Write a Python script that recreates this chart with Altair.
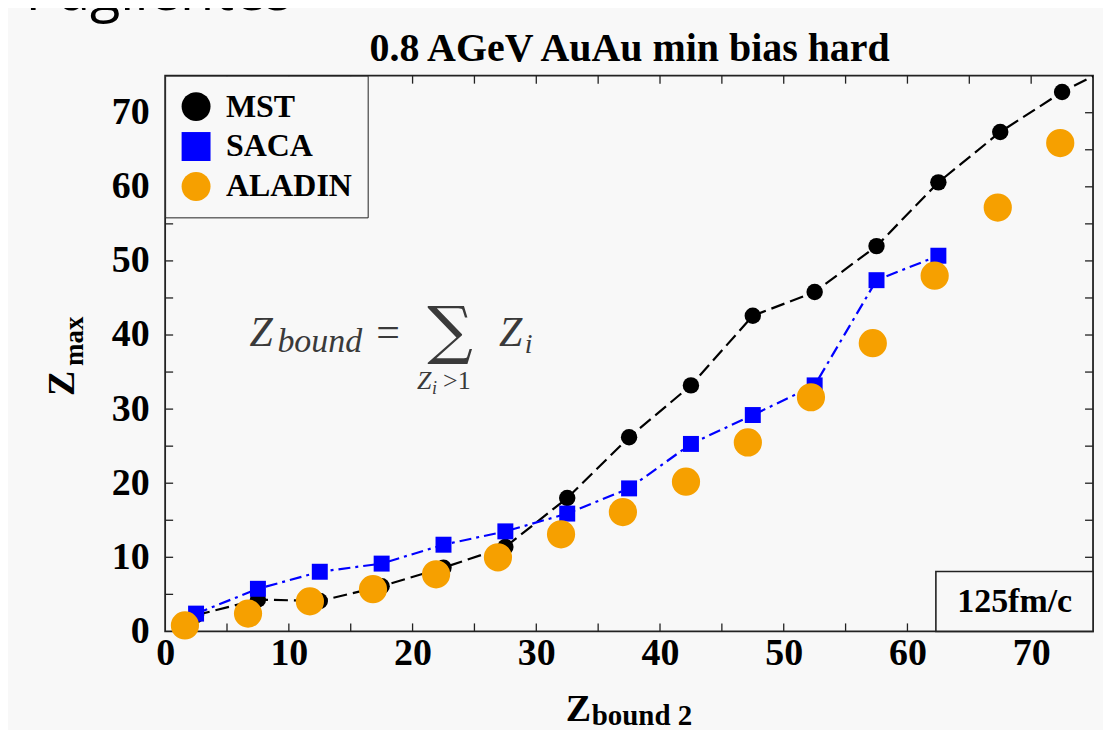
import altair as alt
import pandas as pd

# ---------------- data ----------------
SERIES = ["MST", "SACA", "ALADIN"]

MST_X = [2.5, 7.5, 12.5, 17.5, 22.5, 27.5, 32.5, 37.5, 42.5, 47.5, 52.5, 57.5, 62.5, 67.5, 72.5, 77.5]
MST_Y = [2.2, 4.3, 4.1, 6.1, 8.6, 11.4, 18.0, 26.2, 33.2, 42.6, 45.8, 52.0, 60.6, 67.4, 72.8, 77.1]

SACA_X = [2.5, 7.5, 12.5, 17.5, 22.5, 27.5, 32.5, 37.5, 42.5, 47.5, 52.5, 57.5, 62.5]
SACA_Y = [2.4, 5.75, 8.05, 9.15, 11.7, 13.5, 15.9, 19.3, 25.3, 29.2, 33.2, 47.4, 50.7]

ALADIN_X = [1.6, 6.7, 11.7, 16.8, 21.9, 26.9, 32.0, 37.0, 42.1, 47.1, 52.2, 57.2, 62.2, 67.3, 72.35]
ALADIN_Y = [0.8, 2.4, 4.05, 5.7, 7.7, 10.0, 13.1, 16.1, 20.2, 25.5, 31.6, 38.9, 48.0, 57.2, 65.9]

TICKS = [5, 10, 15, 20, 25, 30, 35, 40, 45, 50, 55, 60, 65, 70]
LABELS = [0, 10, 20, 30, 40, 50, 60, 70]

# ---------------- styling ----------------
W, H = 930, 557
OX, OY = 165.5, 75  # page position of the plot origin
BG = "#f8f8f8"
SERIF = "Liberation Serif"
COLORS = ["#000000", "#0000ff", "#f6a000"]
SHAPES = ["circle", "square", "circle"]
SIZES = {"MST": 270, "SACA": 256, "ALADIN": 800}

def px(v):
    return v - OX

def py(v):
    return v - OY

xscale = alt.Scale(domain=[0, 75], nice=False, zero=False)
yscale = alt.Scale(domain=[0, 75], nice=False, zero=False)

xaxis = alt.Axis(values=LABELS, title=None, grid=False, ticks=False, tickSize=0, domain=False,
                 labelFont=SERIF, labelFontSize=38, labelFontWeight="bold", labelColor="black",
                 labelPadding=3, labelFlush=False, labelOverlap=False)
yaxis = alt.Axis(values=LABELS, title=None, grid=False, ticks=False, tickSize=0, domain=False,
                 labelFont=SERIF, labelFontSize=38, labelFontWeight="bold", labelColor="black",
                 labelPadding=16, labelFlush=False, labelOverlap=False)

X = alt.X("x:Q", scale=xscale, axis=xaxis)
Y = alt.Y("y:Q", scale=yscale, axis=yaxis)

mst_df = pd.DataFrame({"x": MST_X, "y": MST_Y})
saca_df = pd.DataFrame({"x": SACA_X, "y": SACA_Y})
points_df = pd.concat([
    pd.DataFrame({"x": MST_X, "y": MST_Y, "series": "MST"}),
    pd.DataFrame({"x": SACA_X, "y": SACA_Y, "series": "SACA"}),
    pd.DataFrame({"x": ALADIN_X, "y": ALADIN_Y, "series": "ALADIN"}),
], ignore_index=True)

tick_df = pd.DataFrame({"t": TICKS})
one = pd.DataFrame({"a": [0]})

mst_line = alt.Chart(mst_df).mark_line(color="black", strokeWidth=2.2, strokeDash=[14, 6], clip=True).encode(x=X, y=Y)
saca_line = alt.Chart(saca_df).mark_line(color="#0000ff", strokeWidth=2.2, strokeDash=[12, 5, 3, 5], clip=True).encode(x=X, y=Y)

# inward ticks on all four sides
tk = dict(color="#222222", strokeWidth=1.3)
TX = alt.X("t:Q", scale=xscale, axis=xaxis)
TY = alt.Y("t:Q", scale=yscale, axis=yaxis)
tb = alt.Chart(tick_df).mark_rule(**tk).encode(x=TX, y=alt.value(H), y2=alt.value(H - 8))
tt = alt.Chart(tick_df).mark_rule(**tk).encode(x=TX, y=alt.value(0), y2=alt.value(8))
tl = alt.Chart(tick_df).mark_rule(**tk).encode(y=TY, x=alt.value(0), x2=alt.value(8))
tr = alt.Chart(tick_df).mark_rule(**tk).encode(y=TY, x=alt.value(W), x2=alt.value(W - 8))

LEG = alt.Legend(title=None)

def series_points(name):
    return alt.Chart(points_df).transform_filter(
        f"datum.series == '{name}' && datum.x <= 75"
    ).mark_point(filled=True, opacity=1, strokeWidth=0, size=SIZES[name]).encode(
        x=X, y=Y,
        color=alt.Color("series:N", scale=alt.Scale(domain=SERIES, range=COLORS), legend=LEG),
        shape=alt.Shape("series:N", scale=alt.Scale(domain=SERIES, range=SHAPES), legend=LEG),
    )

pts = [series_points(n) for n in SERIES]


def label(text, x, y, size, weight="normal", style="normal", font=SERIF, align="left",
          angle=0, color="black", baseline="alphabetic"):
    return alt.Chart(one).mark_text(text=text, font=font, fontSize=size, fontWeight=weight,
                                    fontStyle=style, align=align, baseline=baseline,
                                    angle=angle, color=color).encode(x=alt.value(x), y=alt.value(y))

FC = "#3a3a3a"
texts = [
    # page heading fragment cut at the top
    label("r Paglientes", px(-12), py(9), 56, font="Open Sans"),
    # chart title
    label("0.8 AGeV AuAu min bias hard", px(631), py(60), 40, weight="bold", align="center"),
    # axis titles
    label("Z", px(567), py(722), 38, weight="bold"),
    label("bound 2", px(593), py(726), 29, weight="bold"),
    label("Z", px(74), py(396), 38, weight="bold", angle=270),
    label("max", px(83), py(366), 27, weight="bold", angle=270),
    # formula
    label("Z", px(250), py(346), 42, style="italic", color=FC),
    label("bound", px(278), py(352), 34, style="italic", color=FC),
    label("=", px(389), py(346), 42, align="center", color=FC),
    label("\u2211", px(451), py(333), 64, font="DejaVu Serif", align="center", baseline="middle", color=FC),
    label("Z", px(500), py(346), 42, style="italic", color=FC),
    label("i", px(526), py(353), 28, style="italic", color=FC),
    label("Z", px(418), py(389), 26, style="italic", color=FC),
    label("i", px(433), py(394), 18, style="italic", color=FC),
    label(">1", px(444), py(389), 26, color=FC),
    # time box
    label("125fm/c", px(1017), py(613), 34, weight="bold", align="center"),
]

box = alt.Chart(one).mark_rect(fill=BG, stroke="#222222", strokeWidth=1.6).encode(
    x=alt.value(px(938)), x2=alt.value(W), y=alt.value(py(572)), y2=alt.value(H))

chart = alt.layer(
    mst_line, saca_line, tb, tt, tl, tr, *pts, box, *texts
).properties(
    width=W, height=H,
    autosize=alt.AutoSizeParams(type="none"),
    padding={"left": 157.5, "top": 67, "right": 10, "bottom": 98},
).configure(
    background=BG,
).configure_view(
    stroke="#222222", strokeWidth=1.8, fill=BG,
).configure_legend(
    orient="top-left", offset=0, padding=15, rowPadding=8, labelOffset=14,
    labelFont=SERIF, labelFontSize=32, labelFontWeight="bold", labelColor="black",
    labelLimit=400, symbolSize=841, symbolStrokeWidth=0,
    strokeColor="#222222", fillColor=BG, cornerRadius=0,
)

chart.save("out.html", embed_options={"renderer": "svg", "actions": False})
